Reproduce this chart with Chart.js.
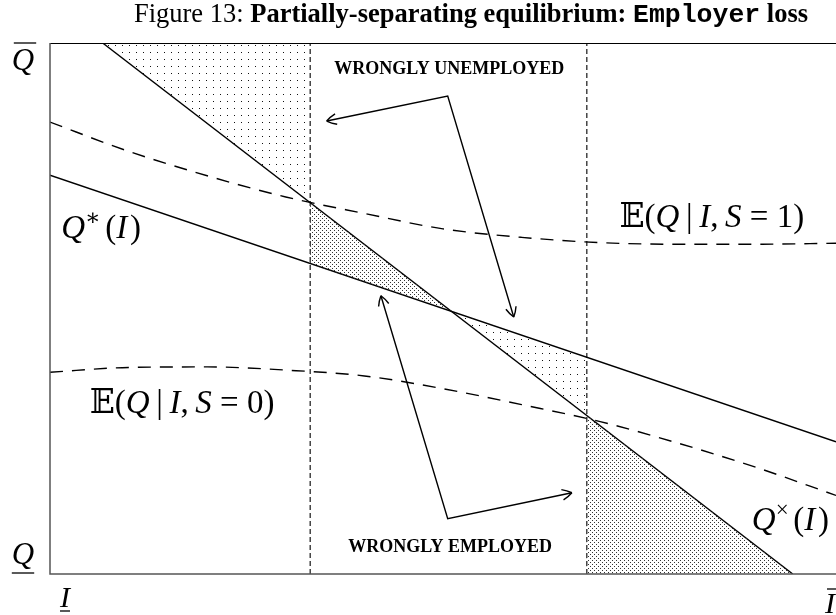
<!DOCTYPE html>
<html>
<head>
<meta charset="utf-8">
<script src="https://cdn.jsdelivr.net/npm/chart.js@4.4.0/dist/chart.umd.min.js"></script>
<style>
    html, body { margin: 0; padding: 0; background: #fff; }
    #grafica { display: block; }
</style>
</head>
<body>
<canvas id="grafica" width="836" height="615"></canvas>
<script>
// DATOS (eje I de 0 a 100, eje Q de 0 a 100)
const gridI = [0, 10, 20, 30, 40, 50, 60, 70, 80, 90, 100];
const expQS1 = [85.1, 79.6, 75.0, 71.0, 67.9, 65.0, 63.4, 62.4, 62.1, 62.1, 62.3];
const expQS0 = [38.0, 38.9, 39.0, 38.4, 37.3, 34.9, 31.9, 28.7, 24.6, 20.0, 14.8];

const qStarI = [0, 100];
const qStarQ = [75.1, 24.9];
const qCrossI = [6.7, 94.5];
const qCrossQ = [100, 0];

const cortes = [33.1, 68.3];

// flechas: extremo, vertice, extremo
const flechaDesempleoI = [35.2, 50.6, 59.0];
const flechaDesempleoQ = [85.3, 90.0, 48.4];
const flechaEmpleoI = [42.1, 50.6, 66.4];
const flechaEmpleoQ = [52.4, 10.4, 15.3];

// textos dentro del grafico (posicion en I, Q)
const textoDesempleo = ['WRONGLY UNEMPLOYED', 50.8, 95.1];
const textoEmpleo = ['WRONGLY EMPLOYED', 50.9, 5.1];


function puntos(xs, ys) {
    return xs.map((x, i) => ({ x: x, y: ys[i] }));
}

function recta(xs, ys, x) {
    return ys[0] + (ys[1] - ys[0]) * (x - xs[0]) / (xs[1] - xs[0]);
}

// cruce de Q*(I) con Qx(I)
const b1 = (qCrossQ[1] - qCrossQ[0]) / (qCrossI[1] - qCrossI[0]);
const a1 = qCrossQ[0] - b1 * qCrossI[0];
const b2 = (qStarQ[1] - qStarQ[0]) / (qStarI[1] - qStarI[0]);
const a2 = qStarQ[0] - b2 * qStarI[0];
const cruceI = (a2 - a1) / (b1 - b2);
const cruceQ = a2 + b2 * cruceI;

const zonaA = [
    { x: qCrossI[0], y: 100 }, { x: cortes[0], y: 100 },
    { x: cortes[0], y: recta(qCrossI, qCrossQ, cortes[0]) }
];
const zonaB = [
    { x: cortes[0], y: recta(qCrossI, qCrossQ, cortes[0]) }, { x: cruceI, y: cruceQ },
    { x: cortes[0], y: recta(qStarI, qStarQ, cortes[0]) }
];
const zonaC = [
    { x: cruceI, y: cruceQ }, { x: cortes[1], y: recta(qStarI, qStarQ, cortes[1]) },
    { x: cortes[1], y: recta(qCrossI, qCrossQ, cortes[1]) }
];
const zonaD = [
    { x: cortes[1], y: recta(qCrossI, qCrossQ, cortes[1]) }, { x: qCrossI[1], y: 0 },
    { x: cortes[1], y: 0 }
];


// TRAMAS DE PUNTOS
const graph = document.querySelector('#grafica');
const gctx = graph.getContext('2d');

function trama(paso, pts, color) {
    const c = document.createElement('canvas');
    c.width = paso;
    c.height = paso;
    const g = c.getContext('2d');
    g.fillStyle = color;
    pts.forEach(p => g.fillRect(p[0], p[1], 1, 1));
    return gctx.createPattern(c, 'repeat');
}

const ralo = trama(7, [[3, 3]], '#111');
const denso = trama(4, [[0, 0], [2, 2]], '#333');


function zona(data, fondo) {
    return {
        data: data,
        fill: 'shape',
        backgroundColor: fondo,
        borderWidth: 0,
        pointRadius: 0,
        tension: 0
    };
}

function linea(data, dash, extra) {
    return Object.assign({
        data: data,
        fill: false,
        borderColor: '#000',
        borderWidth: 1.4,
        borderDash: dash,
        pointRadius: 0,
        tension: 0
    }, extra || {});
}


// TEXTOS CON VARIAS FUENTES
const SERIF = "'Liberation Serif', 'DejaVu Serif', 'DejaVu Sans', serif";

function fuente(estilo, size) {
    if (estilo === 'i') return 'italic ' + size + 'px ' + SERIF;
    if (estilo === 's') return Math.round(size * 0.7) + 'px ' + SERIF;
    if (estilo === 'b') return 'bold ' + size + 'px ' + SERIF;
    if (estilo === 'm') return 'bold ' + size + 'px "Liberation Mono", monospace';
    return size + 'px ' + SERIF;
}

function escribir(ctx, runs, cx, base, size) {
    let total = 0;
    runs.forEach(r => {
        ctx.font = fuente(r[1], size);
        total += ctx.measureText(r[0]).width;
    });
    let x = cx - total / 2;
    runs.forEach(r => {
        ctx.font = fuente(r[1], size);
        const y = r[1] === 's' ? base - size * 0.4 : base;
        ctx.fillText(r[0], x, y);
        x += ctx.measureText(r[0]).width;
    });
    return [cx - total / 2, total];
}

function punta(ctx, desde, hasta) {
    const ang = Math.atan2(hasta.y - desde.y, hasta.x - desde.x);
    const largo = 11;
    ctx.beginPath();
    [-0.5, 0.5].forEach(d => {
        const a = ang + Math.PI + d;
        ctx.moveTo(hasta.x, hasta.y);
        ctx.quadraticCurveTo(
            hasta.x + Math.cos(a + d * 0.3) * largo * 0.5, hasta.y + Math.sin(a + d * 0.3) * largo * 0.5,
            hasta.x + Math.cos(a) * largo, hasta.y + Math.sin(a) * largo);
    });
    ctx.stroke();
}

const dibujo = {
    id: 'dibujo',
    afterDatasetsDraw(chart) {
        const ctx = chart.ctx;
        const { left, right, top, bottom } = chart.chartArea;
        const ex = chart.scales.x;
        const ye = chart.scales.y;
        ctx.save();

        // marco
        ctx.strokeStyle = '#000';
        ctx.lineWidth = 1;
        ctx.beginPath();
        ctx.moveTo(left, top + 0.5);
        ctx.lineTo(right, top + 0.5);
        ctx.stroke();
        ctx.strokeStyle = '#555';
        ctx.lineWidth = 1.5;
        ctx.beginPath();
        ctx.moveTo(left, top);
        ctx.lineTo(left, bottom);
        ctx.lineTo(right, bottom);
        ctx.stroke();

        // puntas de flecha
        ctx.strokeStyle = '#000';
        ctx.lineWidth = 1.4;
        [10, 11].forEach(i => {
            const pts = chart.getDatasetMeta(i).data;
            punta(ctx, pts[1], pts[0]);
            punta(ctx, pts[1], pts[2]);
        });

        ctx.fillStyle = '#000';
        ctx.textBaseline = 'alphabetic';

        // titulo
        escribir(ctx, [
            ['Figure 13: ', 'r'],
            ['Partially-separating equilibrium: ', 'b'],
            ['Employer', 'm'],
            [' loss', 'b']
        ], 471, 22, 26.5);

        // textos de las zonas
        ctx.textBaseline = 'middle';
        [textoDesempleo, textoEmpleo].forEach(t => {
            escribir(ctx, [[t[0], 'b']], ex.getPixelForValue(t[1]), ye.getPixelForValue(t[2]), 18);
        });
        ctx.textBaseline = 'alphabetic';

        // nombres de las curvas
        const s = 33;
        escribir(ctx, [['Q', 'i'], ['\u2217\u2009', 's'], ['(', 'r'], ['I', 'i'], ['\u200A)', 'r']],
            ex.getPixelForValue(6.5), ye.getPixelForValue(63.3), s);
        escribir(ctx, [['\u{1D53C}(', 'r'], ['Q', 'i'], ['\u2009|\u2009', 'r'], ['I', 'i'], [',\u2009', 'r'], ['S', 'i'], [' = ', 'r'], ['1)', 'r']],
            ex.getPixelForValue(84.2), ye.getPixelForValue(65.3), s);
        escribir(ctx, [['\u{1D53C}(', 'r'], ['Q', 'i'], ['\u2009|\u2009', 'r'], ['I', 'i'], [',\u2009', 'r'], ['S', 'i'], [' = ', 'r'], ['0)', 'r']],
            ex.getPixelForValue(16.8), ye.getPixelForValue(30.3), s);
        escribir(ctx, [['Q', 'i'], ['\u00D7\u2009', 's'], ['(', 'r'], ['I', 'i'], ['\u200A)', 'r']],
            ex.getPixelForValue(94.2), ye.getPixelForValue(8.3), s);

        // extremos de los ejes
        ctx.strokeStyle = '#000';
        ctx.lineWidth = 1.3;
        let r = escribir(ctx, [['Q', 'i']], left - 27, top + 27, 31);
        ctx.beginPath(); ctx.moveTo(r[0] + 2, top); ctx.lineTo(r[0] + r[1] + 2, top); ctx.stroke();
        r = escribir(ctx, [['Q', 'i']], left - 27, bottom - 10, 31);
        ctx.beginPath(); ctx.moveTo(r[0], bottom - 1); ctx.lineTo(r[0] + r[1], bottom - 1); ctx.stroke();
        r = escribir(ctx, [['I', 'i']], left + 15, bottom + 33, 30);
        ctx.beginPath(); ctx.moveTo(r[0], bottom + 37); ctx.lineTo(r[0] + r[1], bottom + 37); ctx.stroke();
        r = escribir(ctx, [['I', 'i']], right - 6, bottom + 39, 30);
        ctx.beginPath(); ctx.moveTo(r[0] + 2, bottom + 15); ctx.lineTo(r[0] + r[1] + 2, bottom + 15); ctx.stroke();

        ctx.restore();
    }
};


const config = {
    type: 'line',
    data: {
        datasets: [
            zona(zonaA, ralo),
            zona(zonaB, denso),
            zona(zonaC, ralo),
            zona(zonaD, denso),
            linea([{ x: cortes[0], y: 0 }, { x: cortes[0], y: 100 }], [5, 3], { borderWidth: 1.1 }),
            linea([{ x: cortes[1], y: 0 }, { x: cortes[1], y: 100 }], [5, 3], { borderWidth: 1.1 }),
            linea(puntos(gridI, expQS1), [13, 9], { cubicInterpolationMode: 'monotone' }),
            linea(puntos(gridI, expQS0), [13, 9], { cubicInterpolationMode: 'monotone' }),
            linea(puntos(qStarI, qStarQ), []),
            linea(puntos(qCrossI, qCrossQ), []),
            linea(puntos(flechaDesempleoI, flechaDesempleoQ), []),
            linea(puntos(flechaEmpleoI, flechaEmpleoQ), [])
        ]
    },
    options: {
        responsive: false,
        animation: false,
        layout: { padding: { left: 50, top: 43, right: 0, bottom: 41 } },
        plugins: {
            legend: { display: false },
            tooltip: { enabled: false },
            title: { display: false }
        },
        scales: {
            x: { type: 'linear', min: 0, max: 100, display: false },
            y: { type: 'linear', min: 0, max: 100, display: false }
        }
    },
    plugins: [dibujo]
};

new Chart(graph, config);
</script>
</body>
</html>
